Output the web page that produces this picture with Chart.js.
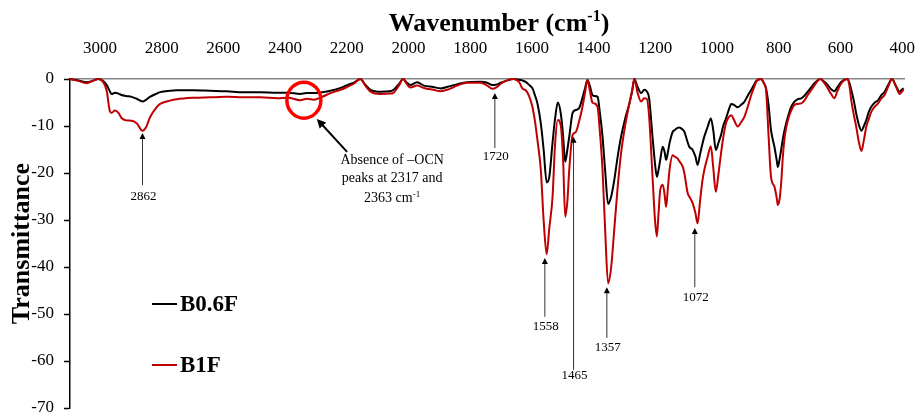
<!DOCTYPE html>
<html>
<head>
<meta charset="utf-8">
<script src="https://cdn.jsdelivr.net/npm/chart.js@4.4.1/dist/chart.umd.min.js"></script>
<style>
  html, body { margin: 0; padding: 0; background: #fff; }
</style>
</head>
<body>
<canvas id="ftir" width="919" height="414"></canvas>
<script>
// FTIR spectra, wavenumber in cm-1 (descending) and transmittance
var wavenumber = [3097, 3070, 3043, 3020, 3006, 2990, 2978, 2968, 2962, 2951, 2940, 2930, 2915, 2897, 2881, 2862, 2850, 2838, 2816, 2805,
  2773, 2751, 2697, 2643, 2589, 2535, 2480, 2426, 2390, 2351, 2330, 2307, 2280, 2253, 2220, 2199, 2175, 2156, 2140, 2123,
  2091, 2060, 2048, 2030, 2018, 2005, 1994, 1972, 1950, 1920, 1896, 1870, 1853, 1810, 1766, 1745, 1728, 1715, 1701, 1680,
  1660, 1640, 1631, 1620, 1610, 1598, 1590, 1582, 1571, 1562, 1552, 1544, 1533, 1525, 1516, 1506, 1499, 1492, 1485, 1479,
  1468, 1458, 1447, 1436, 1428, 1420, 1412, 1404, 1398, 1387, 1380, 1371, 1362, 1353, 1343, 1333, 1322, 1311, 1298, 1284,
  1275, 1268, 1258, 1246, 1236, 1228, 1220, 1209, 1201, 1195, 1190, 1184, 1176, 1170, 1165, 1159, 1154, 1144, 1138, 1128,
  1122, 1111, 1106, 1095, 1090, 1079, 1070, 1063, 1055, 1047, 1040, 1030, 1020, 1012, 1004, 995, 987, 980, 971, 963,
  954, 945, 933, 922, 911, 900, 889, 880, 873, 857, 848, 841, 833, 825, 814, 806, 803, 797, 792, 786,
  780, 770, 760, 749, 738, 727, 716, 706, 695, 684, 665, 652, 641, 630, 620, 610, 597, 578, 570, 565,
  557, 549, 540, 532, 524, 516, 508, 500, 490, 478, 468, 457, 445, 433, 420, 408, 400, 395];

var b06f = [0, -0.3, -0.7, -0.3, 0, -0.4, -1.3, -2.6, -3.2, -2.9, -3.1, -3.4, -3.6, -3.8, -4.2, -4.8, -4.4, -3.8, -3.1, -2.8,
  -2.5, -2.4, -2.4, -2.5, -2.6, -2.8, -2.8, -2.9, -2.9, -3.2, -3.0, -3.0, -2.8, -2.5, -1.9, -1.3, -0.7, 0, -1.2, -2.3,
  -2.7, -2.6, -2.3, -1.0, 0, -0.8, -1.3, -0.7, -1.4, -1.7, -2.0, -1.6, -1.3, -0.7, -0.6, -0.8, -1.3, -1.2, -0.8, -0.3,
  0, -0.2, -0.3, -0.6, -1.2, -2.0, -3.5, -5.2, -9.5, -15.0, -22.0, -21.0, -13.5, -8.5, -5.0, -7.5, -12.0, -17.6, -15.0, -12.3,
  -7.2, -6.6, -6.2, -4.0, -2.0, -0.2, -1.5, -3.4, -3.6, -3.8, -7.0, -12.3, -20.0, -26.6, -25.0, -21.5, -16.5, -12.3, -8.5, -5.2,
  -2.5, 0, -1.6, -3.0, -2.3, -2.6, -4.1, -12.3, -18.0, -20.8, -19.5, -17.2, -14.4, -15.5, -17.2, -15.5, -13.7, -11.3, -10.9, -10.4,
  -10.3, -10.8, -11.2, -13.5, -14.4, -15.1, -16.5, -18.3, -16.0, -13.7, -12.0, -10.1, -8.4, -11.0, -15.1, -13.5, -11.9, -10.0, -8.4, -6.8,
  -5.3, -5.5, -6.0, -5.5, -4.8, -3.5, -2.3, -1.2, -0.4, 0, -0.9, -2.0, -5.5, -10.9, -14.4, -17.5, -18.7, -17.0, -15.0, -12.5,
  -10.5, -8.0, -6.0, -4.8, -4.3, -4.1, -3.5, -2.7, -1.8, -0.9, 0, -0.6, -1.3, -2.2, -2.6, -1.8, -0.6, 0, -1.0, -2.3,
  -4.5, -7.3, -9.8, -11.0, -10.0, -8.7, -7.0, -5.9, -5.1, -4.5, -3.5, -2.7, -1.2, 0, -1.5, -2.7, -2.2, -2.0];

var b1f = [0, -0.4, -0.9, -0.3, 0, -0.6, -2.5, -6.8, -7.2, -6.7, -7.2, -8.3, -8.8, -8.9, -9.4, -11.0, -10.2, -8.2, -6.0, -5.3,
  -4.6, -4.3, -4.0, -3.9, -3.8, -3.9, -3.9, -4.1, -4.0, -4.5, -4.2, -4.4, -3.8, -3.0, -2.3, -1.7, -0.9, 0, -1.4, -2.7,
  -3.2, -3.1, -2.9, -1.3, 0, -1.1, -1.8, -1.4, -1.9, -2.3, -2.6, -2.2, -1.7, -0.8, -0.8, -1.4, -2.1, -1.8, -1.0, -0.3,
  0, -0.8, -2.0, -2.4, -3.5, -6.0, -9.0, -13.0, -19.4, -30.0, -37.3, -32.0, -25.0, -14.0, -8.7, -10.1, -17.0, -29.3, -26.0, -19.4,
  -11.9, -11.3, -9.0, -5.9, -3.0, -0.2, -2.5, -5.0, -5.2, -6.0, -11.0, -19.4, -33.0, -43.5, -40.0, -32.0, -23.0, -15.8, -10.0, -5.2,
  -2.5, 0, -2.8, -4.8, -4.1, -4.2, -8.0, -20.8, -30.0, -33.5, -29.0, -23.6, -22.5, -24.5, -27.2, -23.0, -19.4, -16.2, -16.5, -16.9,
  -17.5, -18.7, -20.0, -24.3, -25.0, -26.4, -28.5, -30.7, -26.0, -21.5, -19.0, -16.5, -14.3, -19.0, -24.0, -20.0, -15.8, -12.5, -9.4, -8.2,
  -7.7, -8.7, -10.1, -9.2, -8.0, -5.8, -3.4, -1.8, -0.6, 0, -0.9, -2.5, -12.0, -20.8, -22.9, -25.5, -26.8, -25.5, -22.0, -16.0,
  -12.0, -8.7, -6.8, -5.5, -5.3, -5.2, -4.5, -3.4, -2.4, -1.3, 0, -0.9, -2.0, -3.2, -4.1, -2.6, -0.9, 0, -1.8, -4.5,
  -7.5, -10.1, -13.5, -15.3, -13.0, -10.1, -8.5, -7.0, -6.0, -5.2, -4.2, -3.4, -1.6, 0, -1.6, -3.2, -2.6, -2.3];

var seriesNames = ['B0.6F', 'B1F'];
var xTickValues = [3000, 2800, 2600, 2400, 2200, 2000, 1800, 1600, 1400, 1200, 1000, 800, 600, 400];

// marked bands: arrow tip, arrow tail and label height in transmittance units
var peakWn = [2862, 1720, 1558, 1465, 1357, 1072];
var peakTip = [-11.5, -3.0, -38.1, -12.3, -44.3, -31.7];
var peakTail = [-22.6, -14.7, -50.6, -61.9, -55.1, -44.3];
var peakLabelY = [-25.1, -16.6, -52.6, -63.2, -57.2, -46.4];

var serif = "'Liberation Serif', 'Times New Roman', serif";

function toPoints(ys) {
  return wavenumber.map(function (w, i) { return { x: w, y: ys[i] }; });
}

function arrow(ctx, x1, y1, x2, y2, len, half) {
  var a = Math.atan2(y2 - y1, x2 - x1);
  ctx.beginPath();
  ctx.moveTo(x1, y1);
  ctx.lineTo(x2 - Math.cos(a) * len * 0.8, y2 - Math.sin(a) * len * 0.8);
  ctx.stroke();
  ctx.beginPath();
  ctx.moveTo(x2, y2);
  ctx.lineTo(x2 - Math.cos(a) * len + Math.sin(a) * half, y2 - Math.sin(a) * len - Math.cos(a) * half);
  ctx.lineTo(x2 - Math.cos(a) * len - Math.sin(a) * half, y2 - Math.sin(a) * len + Math.cos(a) * half);
  ctx.closePath();
  ctx.fill();
}

// text with a raised "-1" exponent, centred on cx
function textWithSup(ctx, pre, sup, post, cx, y, size, weight) {
  var big = weight + ' ' + size + 'px ' + serif;
  var small = weight + ' ' + Math.round(size * 0.62) + 'px ' + serif;
  ctx.font = big;
  var w1 = ctx.measureText(pre).width, w3 = ctx.measureText(post).width;
  ctx.font = small;
  var w2 = ctx.measureText(sup).width;
  var x = cx - (w1 + w2 + w3) / 2;
  ctx.textAlign = 'left';
  ctx.textBaseline = 'alphabetic';
  ctx.font = big;
  ctx.fillText(pre, x, y);
  ctx.font = small;
  ctx.fillText(sup, x + w1, y - size * 0.38);
  ctx.font = big;
  ctx.fillText(post, x + w1 + w2, y);
}

var extras = {
  id: 'extras',
  afterDatasetsDraw: function (chart) {
    var ctx = chart.ctx;
    var xs = chart.scales.x, ys = chart.scales.y;
    ctx.save();
    ctx.fillStyle = '#000';

    // axis title across the top
    textWithSup(ctx, 'Wavenumber (cm', '-1', ')', 499, 31, 26, 'bold');

    // band markers
    ctx.strokeStyle = '#333';
    ctx.fillStyle = '#000';
    ctx.lineWidth = 1;
    ctx.font = '13px ' + serif;
    for (var i = 0; i < peakWn.length; i++) {
      var px = xs.getPixelForValue(peakWn[i]);
      arrow(ctx, px, ys.getPixelForValue(peakTail[i]), px, ys.getPixelForValue(peakTip[i]), 6, 3);
      ctx.textAlign = 'center';
      ctx.textBaseline = 'middle';
      ctx.fillText(String(peakWn[i]), px + 1, ys.getPixelForValue(peakLabelY[i]));
    }

    // circled region where the -OCN bands would be
    ctx.strokeStyle = '#ff0000';
    ctx.lineWidth = 3.5;
    ctx.beginPath();
    ctx.ellipse(xs.getPixelForValue(2339), ys.getPixelForValue(-4.5), 17, 18, 0, 0, Math.PI * 2);
    ctx.stroke();

    ctx.strokeStyle = '#000';
    ctx.fillStyle = '#000';
    ctx.lineWidth = 2;
    arrow(ctx, xs.getPixelForValue(2199), ys.getPixelForValue(-15.5),
      xs.getPixelForValue(2297), ys.getPixelForValue(-8.5), 9, 4.5);

    var nx = xs.getPixelForValue(2053);
    ctx.font = '14px ' + serif;
    ctx.textAlign = 'center';
    ctx.textBaseline = 'middle';
    ctx.fillText('Absence of \u2013OCN', nx, ys.getPixelForValue(-17.2));
    ctx.fillText('peaks at 2317 and', nx, ys.getPixelForValue(-21.1));
    textWithSup(ctx, '2363 cm', '-1', '', nx, ys.getPixelForValue(-25.1) + 5, 14, 'normal');

    // legend
    var colors = [chart.data.datasets[0].borderColor, chart.data.datasets[1].borderColor];
    var rows = [304, 365];
    ctx.font = 'bold 23px ' + serif;
    ctx.textAlign = 'left';
    ctx.textBaseline = 'middle';
    for (var j = 0; j < seriesNames.length; j++) {
      ctx.strokeStyle = colors[j];
      ctx.lineWidth = 2;
      ctx.beginPath();
      ctx.moveTo(152, rows[j]);
      ctx.lineTo(177, rows[j]);
      ctx.stroke();
      ctx.fillStyle = '#000';
      ctx.fillText(seriesNames[j], 180, rows[j] + 1);
    }
    ctx.restore();
  }
};

new Chart(document.getElementById('ftir'), {
  type: 'line',
  data: {
    datasets: [{
      label: seriesNames[0],
      data: toPoints(b06f),
      borderColor: '#000000',
      borderWidth: 2,
      pointRadius: 0,
      cubicInterpolationMode: 'monotone',
      clip: 4,
      order: 1
    }, {
      label: seriesNames[1],
      data: toPoints(b1f),
      borderColor: '#c00000',
      borderWidth: 2,
      pointRadius: 0,
      cubicInterpolationMode: 'monotone',
      clip: 4,
      order: 0
    }]
  },
  options: {
    responsive: false,
    animation: false,
    layout: { padding: { top: 0, left: 0, right: 15, bottom: 6 } },
    plugins: {
      legend: { display: false },
      tooltip: { enabled: false }
    },
    scales: {
      x: {
        type: 'linear',
        position: 'top',
        reverse: true,
        min: 394,
        max: 3097,
        afterBuildTicks: function (scale) {
          scale.ticks = xTickValues.map(function (v) { return { value: v }; });
        },
        afterFit: function (scale) {
          scale.height = 79;
          scale.paddingLeft = 0;
          scale.paddingRight = 0;
        },
        grid: { display: false, drawTicks: false },
        border: { display: true, color: '#868686', width: 1.5 },
        ticks: {
          padding: 20,
          maxRotation: 0,
          autoSkip: false,
          color: '#000',
          font: { family: serif, size: 17 },
          callback: function (v) { return String(v); }
        }
      },
      y: {
        min: -70,
        max: 0,
        afterFit: function (scale) {
          scale.width = 70;
          scale.paddingTop = 0;
          scale.paddingBottom = 0;
        },
        grid: { drawOnChartArea: false, drawTicks: true, tickLength: 6, color: '#000', tickWidth: 1.5 },
        border: { display: true, color: '#000', width: 1.5 },
        ticks: {
          stepSize: 10,
          padding: 10,
          color: '#000',
          font: { family: serif, size: 17 }
        },
        title: {
          display: true,
          text: 'Transmittance',
          color: '#000',
          padding: { top: 9, bottom: 0 },
          font: { family: serif, size: 26, weight: 'bold', lineHeight: 1 }
        }
      }
    }
  },
  plugins: [extras]
});
</script>
</body>
</html>
